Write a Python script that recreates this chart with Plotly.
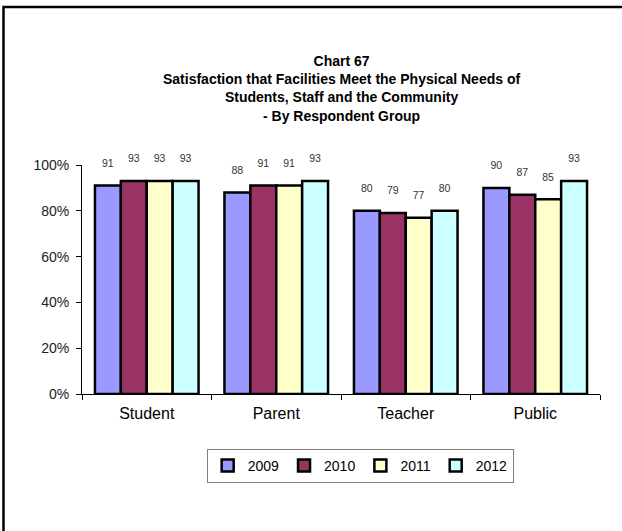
import plotly.graph_objects as go

categories = ["Student", "Parent", "Teacher", "Public"]
years = ["2009", "2010", "2011", "2012"]
v2009 = [91, 88, 80, 90]
v2010 = [93, 91, 79, 87]
v2011 = [93, 91, 77, 85]
v2012 = [93, 93, 80, 93]
series = [v2009, v2010, v2011, v2012]
colors = ["#9999FF", "#993366", "#FFFFCC", "#CCFFFF"]
y_ticks = [0, 20, 40, 60, 80, 100]

fig = go.Figure()
for yr, vals, col in zip(years, series, colors):
    fig.add_trace(go.Bar(
        name=yr, x=categories, y=vals,
        marker=dict(color=col, line=dict(color="black", width=2.5)),
        text=[f"{v}<br>\u00a0" for v in vals], textposition="outside",
        textfont=dict(family="Liberation Sans, Arial", size=10.5, color="#333333"),
        cliponaxis=False,
    ))

fig.update_layout(
    width=622, height=531,
    margin=dict(l=82, r=22, t=165, b=137),
    paper_bgcolor="white", plot_bgcolor="white",
    barmode="group", bargap=0.2, bargroupgap=0,
    font=dict(family="Liberation Sans, Arial", size=12, color="black"),
    showlegend=True,
    legend=dict(orientation="h", x=0.537, y=-0.314, xanchor="center", yanchor="middle",
                bordercolor="#808080", borderwidth=1,
                font=dict(size=14), itemwidth=30, traceorder="normal"),
    annotations=[dict(
        text="<b>Chart 67<br>Satisfaction that Facilities Meet the Physical Needs of<br>Students, Staff and the Community<br>- By Respondent Group</b>",
        xref="paper", yref="paper", x=0.5, y=1.332, xanchor="center", yanchor="middle",
        showarrow=False, font=dict(size=14, color="black"))],
    shapes=[dict(type="rect", xref="paper", yref="paper",
                 x0=(3.5 - 82) / 518, x1=(640 - 82) / 518,
                 y0=(394 - 560) / 229, y1=(394 - 7) / 229,
                 line=dict(color="black", width=2.5), fillcolor="rgba(0,0,0,0)", layer="below")],
)
fig.update_yaxes(range=[0, 100], tickvals=y_ticks, ticktext=[f"{t}%" for t in y_ticks],
                 showgrid=False, showline=True, linecolor="black", linewidth=1,
                 ticks="outside", ticklen=5, tickcolor="black", zeroline=False,
                 ticklabelstandoff=4,
                 tickfont=dict(size=14, color="#222222"))
fig.update_xaxes(showgrid=False, showline=True, linecolor="black", linewidth=1,
                 ticks="outside", tickson="boundaries", ticklen=5, tickcolor="black",
                 ticklabelstandoff=5,
                 tickfont=dict(size=16, color="black"))

fig.write_html("out.html", config={"displayModeBar": False},
               post_script="document.body.style.margin='0';")
